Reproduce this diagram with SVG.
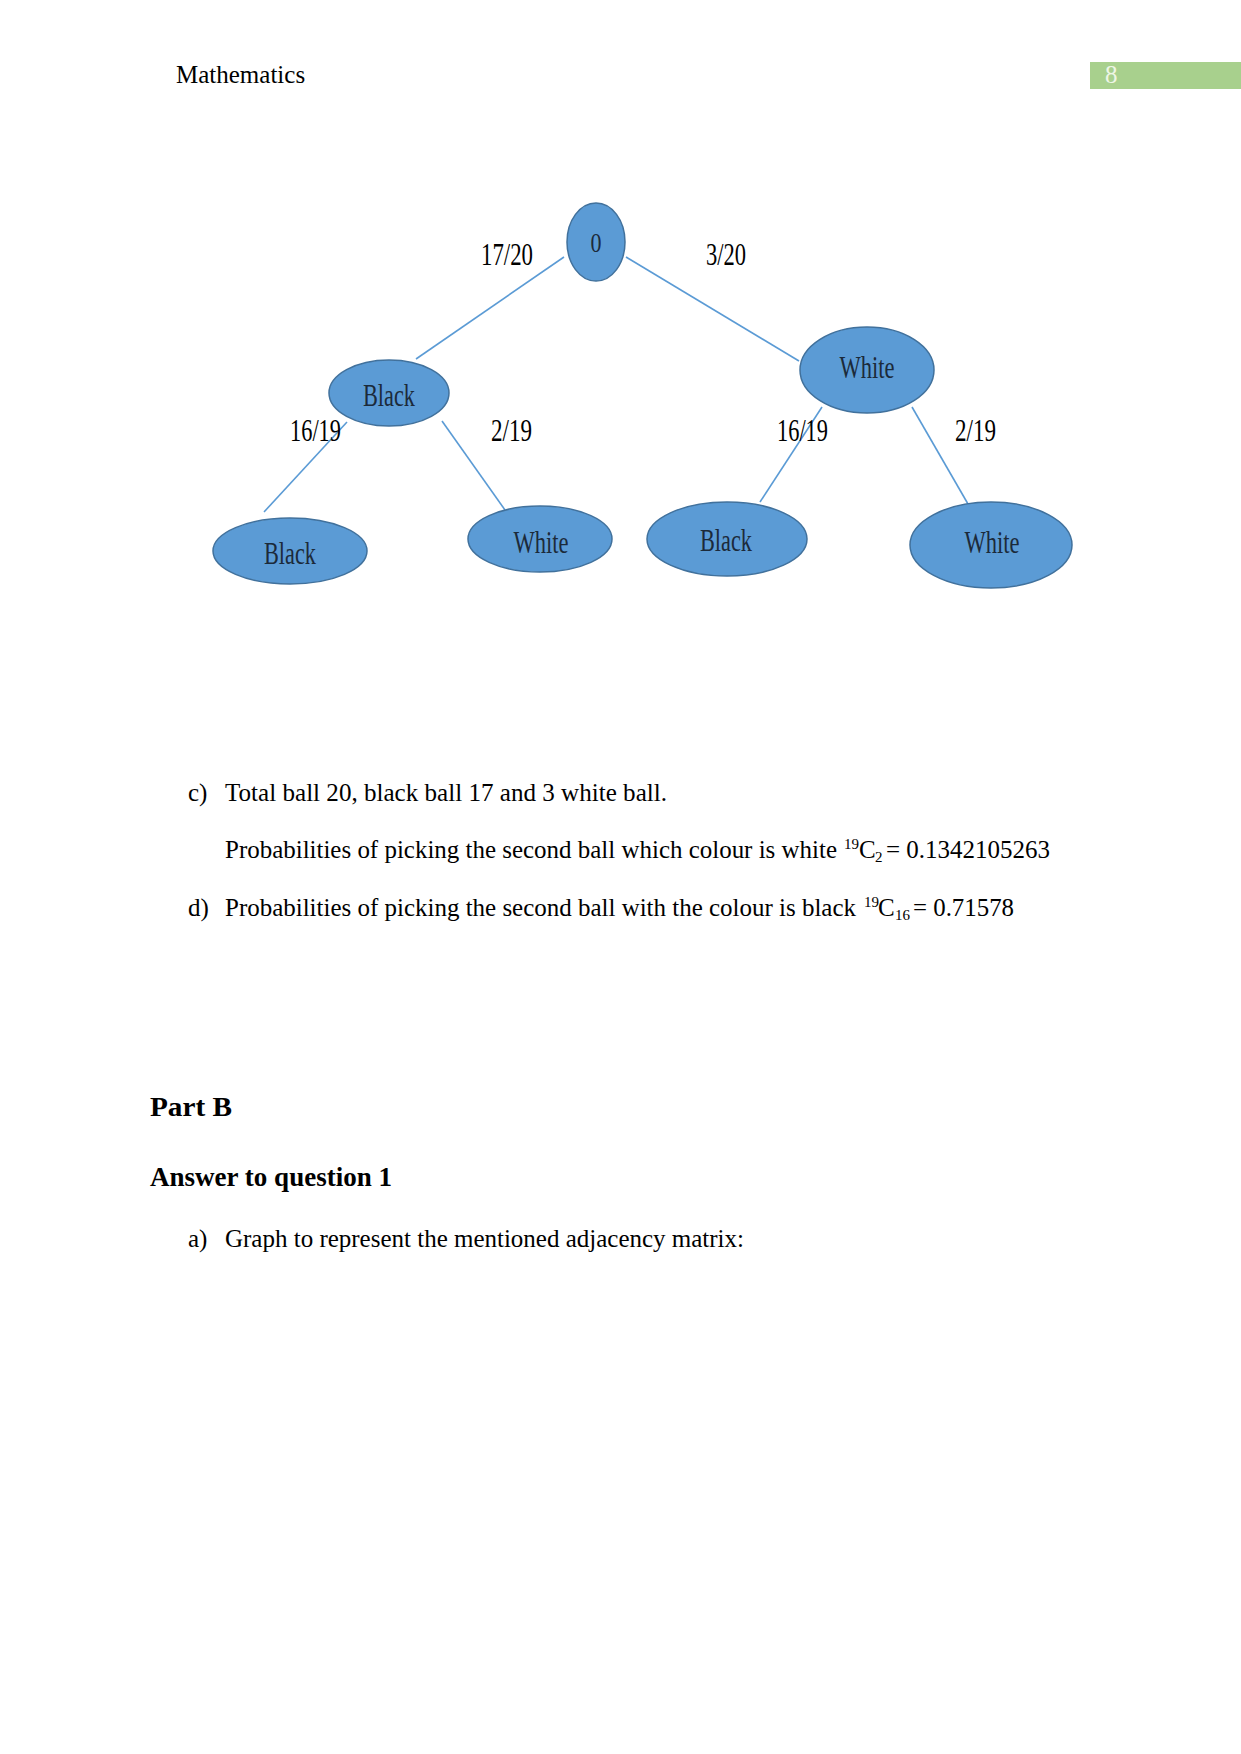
<svg xmlns="http://www.w3.org/2000/svg" width="1241" height="1754" viewBox="0 0 1241 1754">
<style>
.body{font-family:"Liberation Serif","Times New Roman",serif;font-size:25px;fill:#000}
.bold{font-family:"Liberation Serif","Times New Roman",serif;font-size:27px;font-weight:bold;fill:#000}
.lab{font-family:"Liberation Serif","Times New Roman",serif;font-size:31px;fill:#000}
.nt{font-family:"Liberation Serif","Times New Roman",serif;font-size:31px;fill:#1b2a3a;text-anchor:middle}
.node{fill:#5b9bd5;stroke:#41719c;stroke-width:1.5}
.edge{stroke:#5b9bd5;stroke-width:1.6;fill:none}
.sm{font-family:"Liberation Serif","Times New Roman",serif;font-size:15px;fill:#000}
</style>
<rect width="1241" height="1754" fill="#fff"/>
<text class="body" x="176" y="83">Mathematics</text>
<rect x="1090" y="62" width="151" height="27" fill="#a8d08d"/>
<text class="body" x="1105" y="83" style="fill:#eef6e6">8</text>

<g id="connectors">
<line class="edge" x1="564" y1="257" x2="416" y2="359"/>
<line class="edge" x1="626" y1="257" x2="799" y2="361"/>
<line class="edge" x1="347" y1="422" x2="264" y2="512"/>
<line class="edge" x1="442" y1="421" x2="505" y2="510"/>
<line class="edge" x1="822" y1="407" x2="760" y2="502"/>
<line class="edge" x1="912" y1="407" x2="968" y2="504"/>
</g>

<g id="edge-labels">
<text class="lab" x="481" y="265" textLength="52" lengthAdjust="spacingAndGlyphs">17/20</text>
<text class="lab" x="706" y="265" textLength="40" lengthAdjust="spacingAndGlyphs">3/20</text>
<text class="lab" x="290" y="441" textLength="51" lengthAdjust="spacingAndGlyphs">16/19</text>
<text class="lab" x="491" y="441" textLength="41" lengthAdjust="spacingAndGlyphs">2/19</text>
<text class="lab" x="777" y="441" textLength="51" lengthAdjust="spacingAndGlyphs">16/19</text>
<text class="lab" x="955" y="441" textLength="41" lengthAdjust="spacingAndGlyphs">2/19</text>
</g>

<g id="root">
<ellipse class="node" cx="596" cy="242" rx="29" ry="39"/>
<text class="nt" x="596" y="252" style="font-size:27px" textLength="11" lengthAdjust="spacingAndGlyphs">0</text>
</g>
<g id="mid-black">
<ellipse class="node" cx="389" cy="393" rx="60" ry="33"/>
<text class="nt" x="389" y="406" textLength="52" lengthAdjust="spacingAndGlyphs">Black</text>
</g>
<g id="mid-white">
<ellipse class="node" cx="867" cy="370" rx="67" ry="43"/>
<text class="nt" x="867" y="378" textLength="55" lengthAdjust="spacingAndGlyphs">White</text>
</g>
<g id="leaf-black-1">
<ellipse class="node" cx="290" cy="551" rx="77" ry="33"/>
<text class="nt" x="290" y="564" textLength="52" lengthAdjust="spacingAndGlyphs">Black</text>
</g>
<g id="leaf-white-1">
<ellipse class="node" cx="540" cy="539" rx="72" ry="33"/>
<text class="nt" x="541" y="553" textLength="55" lengthAdjust="spacingAndGlyphs">White</text>
</g>
<g id="leaf-black-2">
<ellipse class="node" cx="727" cy="539" rx="80" ry="37"/>
<text class="nt" x="726" y="551" textLength="52" lengthAdjust="spacingAndGlyphs">Black</text>
</g>
<g id="leaf-white-2">
<ellipse class="node" cx="991" cy="545" rx="81" ry="43"/>
<text class="nt" x="992" y="553" textLength="55" lengthAdjust="spacingAndGlyphs">White</text>
</g>

<text class="body" x="188" y="801">c)</text>
<text class="body" x="225" y="801" textLength="442" lengthAdjust="spacingAndGlyphs">Total ball 20, black ball 17 and 3 white ball.</text>
<text class="body" x="225" y="858" textLength="612" lengthAdjust="spacingAndGlyphs">Probabilities of picking the second ball which colour is white</text>
<text class="sm" x="844" y="849">19</text>
<text class="body" x="859" y="858">C</text>
<text class="sm" x="875" y="862">2</text>
<text class="body" x="886" y="858" textLength="164" lengthAdjust="spacingAndGlyphs">= 0.1342105263</text>
<text class="body" x="188" y="916">d)</text>
<text class="body" x="225" y="916" textLength="631" lengthAdjust="spacingAndGlyphs">Probabilities of picking the second ball with the colour is black</text>
<text class="sm" x="864" y="907">19</text>
<text class="body" x="878" y="916">C</text>
<text class="sm" x="895" y="920">16</text>
<text class="body" x="913" y="916" textLength="101" lengthAdjust="spacingAndGlyphs">= 0.71578</text>

<text class="bold" x="150" y="1116" textLength="82" lengthAdjust="spacingAndGlyphs">Part B</text>
<text class="bold" x="150" y="1186" textLength="242" lengthAdjust="spacingAndGlyphs">Answer to question 1</text>
<text class="body" x="188" y="1247">a)</text>
<text class="body" x="225" y="1247" textLength="519" lengthAdjust="spacingAndGlyphs">Graph to represent the mentioned adjacency matrix:</text>
</svg>
